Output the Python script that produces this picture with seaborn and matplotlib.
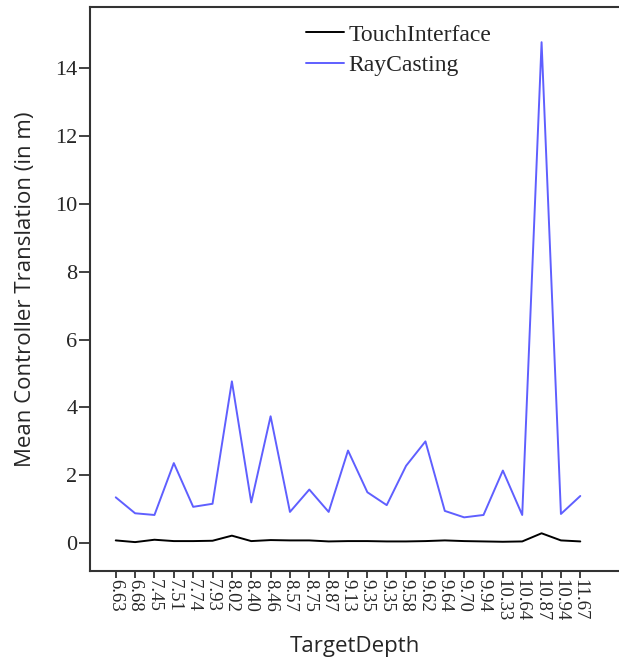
import matplotlib
matplotlib.use("Agg")
import matplotlib.pyplot as plt
import seaborn as sns
import pandas as pd

""" data """
depths = ["6.63", "6.68", "7.45", "7.51", "7.74", "7.93", "8.02", "8.40", "8.46", "8.57",
          "8.75", "8.87", "9.13", "9.35", "9.35", "9.58", "9.62", "9.64", "9.70", "9.94",
          "10.33", "10.64", "10.87", "10.94", "11.67"]
touch = [0.08, 0.03, 0.10, 0.06, 0.06, 0.07, 0.22, 0.06, 0.09, 0.08,
         0.08, 0.05, 0.06, 0.06, 0.05, 0.05, 0.06, 0.08, 0.06, 0.05,
         0.04, 0.05, 0.29, 0.08, 0.05]
ray = [1.35, 0.88, 0.83, 2.36, 1.07, 1.16, 4.77, 1.20, 3.74, 0.92,
       1.58, 0.92, 2.73, 1.50, 1.12, 2.28, 3.00, 0.95, 0.76, 0.83,
       2.14, 0.83, 14.77, 0.86, 1.39]

df = pd.DataFrame({
    "pos": list(range(len(depths))) * 2,
    "value": touch + ray,
    "group": ["TouchInterface"] * len(depths) + ["RayCasting"] * len(depths),
})

sns.set_style("white")
serif = ["Liberation Serif", "DejaVu Serif"]

fig = plt.figure(figsize=(6.19, 6.61), dpi=100)
ax = fig.add_axes([0.1454, 0.136, 0.8546, 0.853])

sns.lineplot(data=df, x="pos", y="value", hue="group",
             palette={"TouchInterface": "black", "RayCasting": "#5f5fff"},
             linewidth=1.4, ax=ax)

ax.set_xlim(-1.33, 26.0)
ax.set_ylim(-0.825, 15.8)
ax.set_xticks(range(len(depths)))
ax.set_xticklabels(depths, rotation=270, family=serif, fontsize=13.5)
ax.set_yticks([0, 2, 4, 6, 8, 10, 12, 14])
ax.set_yticklabels(["0", "2", "4", "6", "8", "10", "12", "14"], family=serif, fontsize=16)

for s in ["left", "bottom", "top"]:
    ax.spines[s].set_color("#333333")
    ax.spines[s].set_linewidth(1.5)
ax.spines["right"].set_visible(False)

ax.tick_params(axis="y", which="major", direction="out", length=8, width=1.3,
               color="#333333", pad=1, left=True)
ax.tick_params(axis="x", which="major", direction="out", length=5, width=1.3,
               color="#333333", pad=1, bottom=True)

ax.set_xlabel("TargetDepth", fontsize=16, family=["Open Sans", "DejaVu Sans"], labelpad=10)
ax.set_ylabel("Mean Controller Translation (in m)", fontsize=16,
              family=["Open Sans", "DejaVu Sans"], labelpad=14)

leg = ax.legend(loc="upper left", bbox_to_anchor=(0.39, 0.987), frameon=False,
                prop={"family": serif, "size": 17}, handlelength=1.6,
                handletextpad=0.2, labelspacing=0.38, borderaxespad=0)

fig.savefig("out.png", dpi=100)
